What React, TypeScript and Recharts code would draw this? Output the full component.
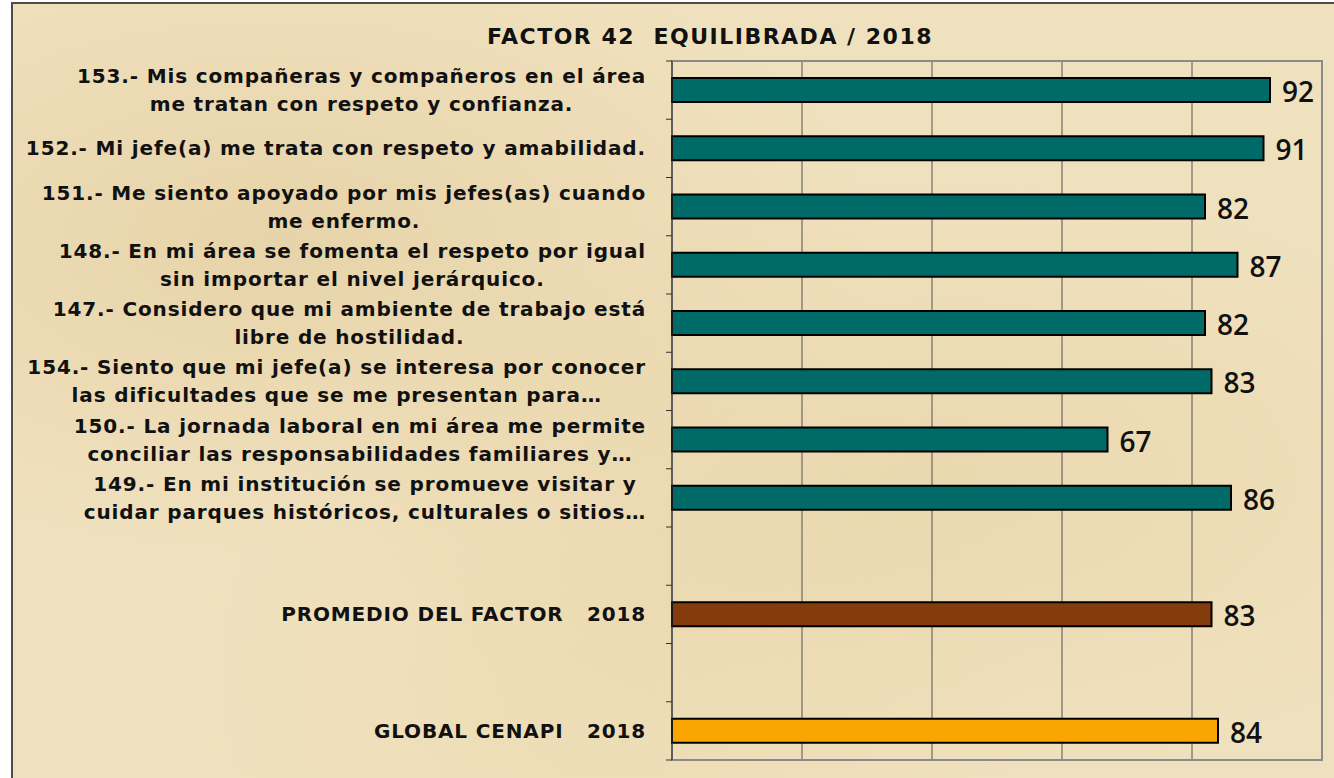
import React from 'react';
import { BarChart, Bar, XAxis, YAxis, CartesianGrid, LabelList, ReferenceArea, Cell } from 'recharts';

const TITLE = 'FACTOR 42  EQUILIBRADA / 2018';

const itemLabels = [
  '153.- Mis compañeras y compañeros en el área\nme tratan con respeto y confianza.',
  '152.- Mi jefe(a) me trata con respeto y amabilidad.',
  '151.- Me siento apoyado por mis jefes(as) cuando\nme enfermo.',
  '148.- En mi área se fomenta el respeto por igual\nsin importar el nivel jerárquico.',
  '147.- Considero que mi ambiente de trabajo está\nlibre de hostilidad.',
  '154.- Siento que mi jefe(a) se interesa por conocer\nlas dificultades que se me presentan para…',
  '150.- La jornada laboral en mi área me permite\nconciliar las responsabilidades familiares y…',
  '149.- En mi institución se promueve visitar y\ncuidar parques históricos, culturales o sitios…',
];
const itemValues = [92, 91, 82, 87, 82, 83, 67, 86];

const promedioLabel = 'PROMEDIO DEL FACTOR   2018';
const promedioValue = 83;
const globalLabel = 'GLOBAL CENAPI   2018';
const globalValue = 84;

const xTicks = [0, 20, 40, 60, 80, 100];

const TEAL = '#006a68';
const BROWN = '#843c0c';
const ORANGE = '#f9a602';
const FRAME = '#8a8a8a';

const rows = [
  ...itemLabels.map((label, i) => ({ id: `r${i}`, label, value: itemValues[i], color: TEAL })),
  { id: 'gap1', label: '', value: null as number | null, color: TEAL },
  { id: 'prom', label: promedioLabel, value: promedioValue, color: BROWN },
  { id: 'gap2', label: '', value: null as number | null, color: TEAL },
  { id: 'glob', label: globalLabel, value: globalValue, color: ORANGE },
];

const LABEL_FONT = '"DejaVu Sans", sans-serif';
const LABEL_SIZE = 20;
const LABEL_WEIGHT = 700;
const LABEL_SPACING = 0.85;
const TICK_MARGIN = 26;
const TICK_LEN = 6;

let ctx: CanvasRenderingContext2D | null = null;
const textWidth = (t: string) => {
  if (!ctx) ctx = document.createElement('canvas').getContext('2d');
  if (!ctx) return t.length * 11;
  ctx.font = `${LABEL_WEIGHT} ${LABEL_SIZE}px "DejaVu Sans"`;
  return ctx.measureText(t).width + t.length * LABEL_SPACING;
};

// category label plus the tick marks on the row boundaries (Excel style)
const CategoryTick = ({ x, y, payload, index }: any) => {
  const row = rows.find((r) => r.id === payload.value);
  const half = payload.offset || 0;
  const ax = x + TICK_MARGIN;
  const lines = row && row.label ? row.label.split('\n') : [];
  const maxW = lines.length ? Math.max(...lines.map(textWidth)) : 0;
  const cx = x - maxW / 2;
  const start = lines.length === 1 ? 0 : -14;
  return (
    <g>
      <line x1={ax - TICK_LEN} x2={ax} y1={y - half} y2={y - half} stroke="#333" />
      {index === rows.length - 1 && <line x1={ax - TICK_LEN} x2={ax} y1={y + half} y2={y + half} stroke="#333" />}
      {lines.map((ln, i) => (
        <text
          key={i}
          x={cx}
          y={y + start + i * 28}
          dy={7}
          textAnchor="middle"
          fontFamily={LABEL_FONT}
          fontWeight={LABEL_WEIGHT}
          fontSize={LABEL_SIZE}
          letterSpacing={LABEL_SPACING}
          fill="#111"
          style={{ whiteSpace: 'pre' }}
        >
          {ln}
        </text>
      ))}
    </g>
  );
};

const ValueLabel = ({ x, y, width, height, value }: any) => {
  if (value == null) return null;
  return (
    <text
      x={x + width + 12}
      y={y + height / 2 + 1}
      dominantBaseline="central"
      fontFamily='"Open Sans", sans-serif'
      fontWeight={600}
      fontSize={28}
      fill="#111"
    >
      {value}
    </text>
  );
};

export default function App() {
  return (
    <div style={{ position: 'absolute', left: 0, top: 0, width: 1334, height: 778, background: '#fff', overflow: 'hidden' }}>
      <div
        style={{
          position: 'absolute',
          left: 11,
          top: 2,
          width: 1330,
          height: 790,
          border: '2px solid #4d4d4d',
          background:
            'radial-gradient(ellipse at 20% 30%, rgba(214,186,130,0.35), transparent 40%), radial-gradient(ellipse at 70% 60%, rgba(220,196,140,0.3), transparent 45%), radial-gradient(ellipse at 45% 85%, rgba(230,210,160,0.3), transparent 40%), #f0e1be',
        }}
      />
      <div
        style={{
          position: 'absolute',
          left: 0,
          top: 22,
          width: 1420,
          textAlign: 'center',
          fontFamily: LABEL_FONT,
          fontWeight: 700,
          fontSize: 22,
          letterSpacing: 1.5,
          color: '#111',
          whiteSpace: 'pre',
          lineHeight: '30px',
        }}
      >
        {TITLE}
      </div>
      <div style={{ position: 'absolute', left: 0, top: 0 }}>
        <BarChart
          width={1334}
          height={778}
          data={rows}
          layout="vertical"
          margin={{ top: 61, right: 12, bottom: 18, left: 0 }}
          barSize={24}
        >
          <CartesianGrid yAxisId="cat" horizontal={false} vertical stroke="#555" strokeWidth={1} />
          <XAxis type="number" domain={[0, 100]} ticks={xTicks} hide />
          <YAxis
            yAxisId="cat"
            type="category"
            dataKey="id"
            width={672}
            tickLine={false}
            axisLine={{ stroke: '#333' }}
            tickSize={0}
            tickMargin={TICK_MARGIN}
            interval={0}
            tick={<CategoryTick />}
          />
          <ReferenceArea yAxisId="cat" x1={0} x2={100} fill="none" stroke={FRAME} strokeWidth={2} ifOverflow="visible" />
          <Bar yAxisId="cat" dataKey="value" stroke="#000" strokeWidth={2} isAnimationActive={false}>
            {rows.map((r) => (
              <Cell key={r.id} fill={r.color} />
            ))}
            <LabelList dataKey="value" content={<ValueLabel />} />
          </Bar>
        </BarChart>
      </div>
    </div>
  );
}
